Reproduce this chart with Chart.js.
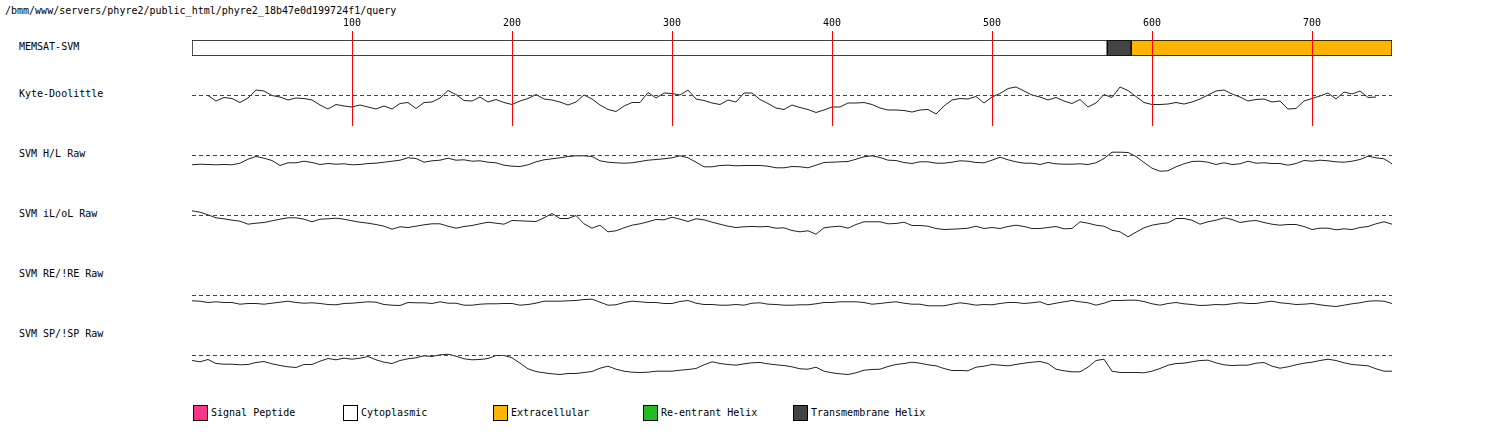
<!DOCTYPE html>
<html><head><meta charset="utf-8">
<script src="https://cdn.jsdelivr.net/npm/chart.js@4.4.1/dist/chart.umd.min.js"></script>
<style>
html,body{margin:0;padding:0;background:#fff;}
body{width:1488px;height:435px;position:relative;overflow:hidden;font-family:"DejaVu Sans Mono",monospace;font-size:10px;color:#000;}
.t{position:absolute;white-space:nowrap;line-height:12px;}
canvas{position:absolute;}
.sw{position:absolute;width:13px;height:14px;border:1px solid #000;}
</style></head><body>
<div class="t" id="title" style="left:5px;top:5px"></div>
<div id="labels"></div>
<div id="legend"></div>
<canvas id="cMem" width="1220" height="16" style="left:182px;top:40px"></canvas>
<canvas id="cKD" width="1220" height="50" style="left:182px;top:80px"></canvas>
<canvas id="cHL" width="1220" height="45" style="left:182px;top:140px"></canvas>
<canvas id="cIO" width="1220" height="45" style="left:182px;top:200px"></canvas>
<canvas id="cRE" width="1220" height="45" style="left:182px;top:280px"></canvas>
<canvas id="cSP" width="1220" height="45" style="left:182px;top:340px"></canvas>
<canvas id="cTicks" width="1220" height="111" style="left:182px;top:15px;z-index:10"></canvas>
<script>
// ---------------- data ----------------
const titleText = "/bmm/www/servers/phyre2/public_html/phyre2_18b47e0d199724f1/query";
const seqLength = 750;
const tickValues = [100, 200, 300, 400, 500, 600, 700];
const trackLabels = ["MEMSAT-SVM", "Kyte-Doolittle", "SVM H/L Raw", "SVM iL/oL Raw", "SVM RE/!RE Raw", "SVM SP/!SP Raw"];

// MEMSAT-SVM topology segments (residue ranges)
const memsatTypes  = ["Cytoplasmic", "Transmembrane Helix", "Extracellular"];
const memsatStarts = [0, 572, 587];
const memsatEnds   = [572, 587, 750];

// profiles sampled every 5 residues
const sampleStep = 5;
const kdStart = 10;
const kyteDoolittle = [
 0,-1.1,-0.4,-0.6,-1.4,-0.5,1.1,0.9,0.0,-0.3,-0.9,-0.5,-0.6,-0.9,-1.9,-2.7,-1.8,-2.1,-2.3,-1.9,-2.3,-2.7,-2.1,-2.7,-1.6,-1.4,-2.6,-1.4,-1.3,-0.5,1.0,0.2,-1.0,-1.1,-0.3,-1.3,-0.8,-1.4,-1.8,-1.1,-0.6,0.2,-0.7,-0.9,-1.3,-1.9,-1.3,0.1,-0.7,
 -1.9,-2.8,-3.2,-2.1,-1.4,-1.4,0.6,-0.5,0.5,0.4,0.1,1.1,-0.7,-1.0,-1.5,-1.8,-0.9,-1.3,0.5,0.5,-0.8,-1.6,-2.5,-2.8,-1.9,-2.4,-2.8,-3.4,-2.9,-2.3,-2.3,-1.5,-1.5,-1.4,-1.8,-2.5,-2.9,-2.9,-3.0,-3.3,-2.9,-2.8,-3.7,-2.1,-0.9,-0.6,-0.7,-0.2,-1.5,-0.3,0.4,
 1.4,1.7,0.9,0.1,-0.3,-0.9,-0.4,-1.1,-1.6,-0.8,-2.3,-1.5,0.2,-0.4,1.7,1.0,-0.2,-1.4,-1.8,-1.8,-1.7,-1.4,-1.7,-1.3,-0.7,0.1,0.9,1.1,0.3,-0.3,-1.1,-0.8,-0.7,-1.3,-1.1,-2.7,-2.6,-1.1,-0.6,-0.1,0.5,-0.7,0.7,0.3,0.9,-0.4,-0.3
];
const svmStart = 0;
const svmHL = [
 -0.93,-0.87,-0.90,-0.93,-0.90,-0.93,-0.77,-0.37,-0.10,-0.27,-0.50,-1.00,-0.73,-0.73,-0.57,-0.70,-0.90,-0.80,-0.87,-0.83,-0.93,-0.90,-0.80,-0.77,-0.67,-0.57,-0.47,-0.23,-0.30,-0.67,-0.53,-0.47,-0.27,-0.47,-0.43,-0.57,-0.53,-0.67,-0.73,-0.97,-1.07,-1.10,-0.93,-0.63,-0.43,-0.33,-0.23,-0.10,-0.03,-0.03,-0.10,
 -0.53,-0.67,-0.73,-0.77,-0.73,-0.60,-0.47,-0.40,-0.33,-0.23,-0.03,-0.23,-0.67,-1.13,-1.13,-1.00,-0.97,-1.03,-1.00,-1.00,-1.00,-1.07,-1.23,-1.23,-1.10,-1.13,-1.23,-0.97,-0.70,-0.67,-0.63,-0.60,-0.37,-0.13,-0.03,-0.20,-0.47,-0.50,-0.70,-0.80,-0.63,-0.63,-0.77,-0.77,-0.67,-0.53,-0.57,-0.70,-0.73,-0.47,-0.17,
 -0.43,-0.63,-0.77,-0.77,-0.90,-0.70,-0.83,-0.87,-0.87,-0.83,-0.90,-0.73,-0.30,0.33,0.33,0.30,-0.10,-0.70,-1.27,-1.57,-1.53,-1.13,-0.83,-0.60,-0.57,-0.67,-0.90,-0.73,-0.90,-0.83,-0.57,-0.77,-0.73,-0.80,-0.80,-0.97,-0.80,-0.50,-0.57,-0.47,-0.53,-0.63,-0.67,-0.57,-0.40,-0.07,-0.23,-0.33,-0.83
];
const svmILOL = [
 0.47,0.33,0.07,-0.23,-0.33,-0.47,-0.57,-0.87,-0.77,-0.70,-0.53,-0.37,-0.23,-0.23,-0.37,-0.63,-0.37,-0.33,-0.27,-0.37,-0.53,-0.67,-0.77,-0.90,-1.07,-1.37,-1.13,-1.20,-1.07,-0.93,-0.83,-0.83,-1.07,-1.27,-1.10,-1.00,-0.83,-0.67,-0.77,-0.87,-0.50,-0.53,-0.57,-0.60,-0.23,0.20,-0.30,-0.30,0.00,-0.83,-1.27,
 -0.97,-1.63,-1.53,-1.23,-0.97,-0.83,-0.63,-0.40,-0.43,-0.17,-0.37,-0.60,-0.33,-0.43,-0.67,-0.87,-1.07,-1.20,-1.13,-1.10,-1.13,-1.10,-1.27,-1.23,-1.50,-1.63,-1.53,-1.87,-1.23,-1.13,-1.07,-1.27,-0.90,-0.63,-0.63,-0.63,-0.83,-0.80,-0.67,-1.00,-1.00,-1.07,-1.30,-1.40,-1.37,-1.33,-1.27,-1.07,-1.30,-1.20,-1.30,
 -1.10,-0.97,-1.10,-1.30,-1.30,-1.20,-1.10,-1.33,-1.30,-0.63,-0.77,-0.97,-1.07,-1.47,-1.63,-2.13,-1.67,-1.23,-0.97,-0.83,-0.73,-0.30,-0.30,-0.47,-0.87,-0.63,-0.47,-0.23,-0.40,-0.70,-0.57,-0.50,-0.70,-0.87,-0.97,-0.90,-0.90,-1.10,-1.40,-1.27,-1.27,-1.43,-1.33,-1.40,-1.20,-1.10,-0.83,-0.63,-0.87
];
const svmRE = [
 -0.53,-0.57,-0.70,-0.63,-0.70,-0.70,-0.87,-0.80,-0.80,-0.87,-0.77,-0.67,-0.57,-0.70,-0.77,-0.73,-0.80,-0.90,-0.93,-0.80,-0.77,-0.70,-0.63,-0.67,-0.90,-0.97,-1.00,-0.70,-0.73,-0.73,-0.80,-0.63,-0.77,-0.77,-0.97,-0.97,-0.87,-0.83,-0.83,-0.80,-0.80,-0.97,-0.90,-0.77,-0.57,-0.57,-0.57,-0.53,-0.50,-0.40,-0.37,
 -0.67,-0.97,-0.93,-0.70,-0.57,-0.63,-0.70,-0.70,-0.80,-0.80,-0.60,-0.50,-0.77,-0.90,-0.90,-0.97,-0.97,-0.90,-0.97,-0.77,-0.73,-0.87,-0.90,-0.97,-0.97,-0.93,-0.93,-0.83,-0.70,-0.70,-0.63,-0.63,-0.63,-0.70,-0.87,-0.80,-0.70,-0.63,-0.77,-0.87,-0.87,-1.03,-1.03,-1.03,-0.87,-0.73,-0.83,-0.97,-0.90,-0.93,-0.80,
 -0.70,-0.70,-0.80,-0.73,-0.63,-0.93,-0.77,-0.63,-0.50,-0.63,-0.73,-0.97,-0.77,-0.50,-0.50,-0.47,-0.47,-0.60,-0.83,-0.97,-0.80,-0.70,-0.83,-0.90,-1.00,-0.97,-0.90,-0.93,-0.83,-0.73,-0.80,-0.80,-0.67,-0.57,-0.73,-0.80,-0.90,-0.87,-0.80,-0.93,-1.03,-1.10,-0.97,-0.83,-0.73,-0.57,-0.53,-0.57,-0.80
];
const svmSP = [
 -0.50,-0.63,-0.40,-0.80,-0.87,-0.87,-0.93,-0.90,-0.70,-0.60,-0.83,-1.00,-1.13,-1.20,-0.90,-0.90,-0.57,-0.30,-0.43,-0.27,-0.37,-0.27,-0.10,-0.43,-0.67,-0.80,-0.50,-0.33,-0.23,-0.03,-0.10,0.07,0.13,-0.07,-0.33,-0.43,-0.40,-0.30,0.00,0.00,-0.23,-0.77,-1.33,-1.60,-1.73,-1.83,-1.90,-1.80,-1.80,-1.70,-1.60,
 -1.27,-1.07,-1.37,-1.57,-1.67,-1.70,-1.67,-1.57,-1.57,-1.57,-1.47,-1.40,-1.30,-0.93,-0.63,-0.80,-0.90,-0.97,-0.83,-0.73,-0.70,-0.83,-0.93,-1.00,-1.13,-1.33,-1.37,-1.17,-1.57,-1.73,-1.83,-1.90,-1.73,-1.47,-1.40,-1.37,-1.10,-0.90,-0.80,-0.67,-0.77,-0.93,-1.03,-1.30,-1.50,-1.50,-1.53,-1.17,-1.07,-0.90,-0.97,
 -1.03,-0.90,-0.77,-0.67,-0.60,-0.80,-1.37,-1.53,-1.63,-1.63,-1.17,-0.50,-0.37,-1.57,-1.70,-1.70,-1.70,-1.73,-1.57,-1.30,-0.97,-0.80,-0.77,-0.63,-0.50,-0.47,-0.73,-0.93,-1.00,-0.97,-0.97,-0.77,-0.70,-1.07,-1.27,-1.13,-0.93,-0.77,-0.67,-0.50,-0.37,-0.50,-0.73,-0.90,-0.97,-1.03,-1.33,-1.57,-1.57
];
const thresholdValue = 0;

const legendLabels = ["Signal Peptide", "Cytoplasmic", "Extracellular", "Re-entrant Helix", "Transmembrane Helix"];

// ---------------- styles ----------------
const topoColors = {"Signal Peptide":"#f5368a","Cytoplasmic":"#ffffff","Extracellular":"#ffb400","Re-entrant Helix":"#22bb22","Transmembrane Helix":"#444444"};
const FONT = '"DejaVu Sans Mono", monospace';
const labelTops = [41, 88, 148, 208, 268, 328];
const PAD = {left: 10, right: 10, top: 0, bottom: 0};

document.getElementById('title').textContent = titleText;
const labDiv = document.getElementById('labels');
trackLabels.forEach((t, i) => {
  const d = document.createElement('div');
  d.className = 't'; d.style.left = '19px'; d.style.top = labelTops[i] + 'px';
  d.textContent = t; labDiv.appendChild(d);
});
const legDiv = document.getElementById('legend');
legendLabels.forEach((t, i) => {
  const sw = document.createElement('div');
  sw.className = 'sw'; sw.style.left = (193 + i * 150) + 'px'; sw.style.top = '405px';
  sw.style.background = topoColors[t]; legDiv.appendChild(sw);
  const d = document.createElement('div');
  d.className = 't'; d.style.left = (211 + i * 150) + 'px'; d.style.top = '407px';
  d.textContent = t; legDiv.appendChild(d);
});

const baseOpts = () => ({
  responsive: false, animation: false, events: [],
  layout: {padding: PAD},
  plugins: {legend: {display: false}, tooltip: {enabled: false}},
});

// MEMSAT bar
new Chart(document.getElementById('cMem'), {
  type: 'bar',
  data: {
    labels: [trackLabels[0]],
    datasets: memsatTypes.map((t, i) => ({
      label: t, data: [[memsatStarts[i], memsatEnds[i]]],
      backgroundColor: topoColors[t], borderColor: '#000', borderWidth: 1, borderSkipped: false,
      grouped: false, barPercentage: 1, categoryPercentage: 1
    }))
  },
  options: Object.assign(baseOpts(), {
    indexAxis: 'y',
    scales: {
      x: {type: 'linear', min: 0, max: seqLength, display: false},
      y: {display: false}
    }
  })
});

function track(id, start, values, yMin, yMax) {
  const pts = values.map((v, i) => ({x: start + i * sampleStep, y: v}));
  new Chart(document.getElementById(id), {
    type: 'line',
    data: {datasets: [
      {data: [{x: 0, y: thresholdValue}, {x: seqLength, y: thresholdValue}], borderColor: '#444', borderWidth: 1, borderDash: [4, 3], pointRadius: 0, tension: 0},
      {data: pts, borderColor: '#222', borderWidth: 1, pointRadius: 0, tension: 0}
    ]},
    options: Object.assign(baseOpts(), {
      scales: {
        x: {type: 'linear', min: 0, max: seqLength, display: false},
        y: {type: 'linear', min: yMin, max: yMax, display: false}
      }
    })
  });
}
track('cKD', kdStart, kyteDoolittle, -6.9, 3.1);
track('cHL', svmStart, svmHL, -2.95, 1.55);
track('cIO', svmStart, svmILOL, -2.95, 1.55);
track('cRE', svmStart, svmRE, -2.95, 1.55);
track('cSP', svmStart, svmSP, -2.95, 1.55);

// position ruler with red markers
new Chart(document.getElementById('cTicks'), {
  type: 'line',
  data: {datasets: []},
  options: Object.assign(baseOpts(), {
    scales: {
      x: {
        type: 'linear', position: 'top', min: 0, max: seqLength,
        afterBuildTicks: s => { s.ticks = tickValues.map(v => ({value: v})); },
        ticks: {color: '#000', font: {family: FONT, size: 10}, padding: 2, maxRotation: 0, autoSkip: false},
        grid: {color: '#ff0000', lineWidth: 1, drawTicks: false},
        border: {display: false}
      },
      y: {type: 'linear', min: 0, max: 1, display: false}
    }
  })
});
</script>
</body></html>
